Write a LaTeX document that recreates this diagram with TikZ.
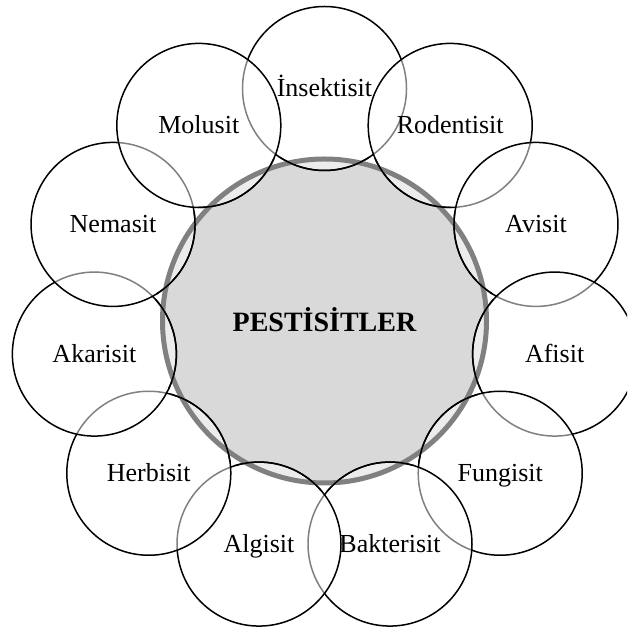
\documentclass[tikz,border=0pt]{standalone}
\usepackage{fontspec}
\setmainfont{Liberation Serif}
\usetikzlibrary{calc}
\definecolor{hubfill}{HTML}{D9D9D9}
\definecolor{hubline}{HTML}{808080}
\begin{document}
\begin{tikzpicture}[x=1pt,y=1pt,
  hub/.style={circle, fill=hubfill, minimum size=324pt, inner sep=0pt, outer sep=0pt},
  petal/.style={circle, draw=black, line width=1.5pt, fill=white, fill opacity=0.5,
    minimum size=164pt, inner sep=0pt, outer sep=0pt},
  petaltext/.style={font=\fontsize{26}{30}\selectfont, text height=17pt, text depth=0pt, inner sep=0pt},
  hubtext/.style={font=\bfseries\fontsize{28}{32}\selectfont, text height=18.5pt, text depth=0pt, inner sep=0pt}]
\useasboundingbox (0,0) rectangle (627,628);
\clip (0,0) rectangle (627,628);
\coordinate (c) at (324.5,307);
% central disc
\node[hub] (hub) at (c) {};
% eleven overlapping outer circles, clockwise from the top
\foreach \name [count=\i from 0] in {ins,rod,avi,afi,fun,bak,alg,her,aka,nem,mol} {
  \node[petal] (\name) at ($(c)+({90-\i*360/11}:232.5)$) {};
}
% rim of the central disc
\draw[line width=5pt, hubline] (c) circle[radius=162];
% outer circle edges stay on top of the rim where they cross it
\begin{scope}[even odd rule]
  \clip (c) circle[radius=170] (c) circle[radius=146];
  \foreach \name in {ins,rod,avi,afi,fun,bak,alg,her,aka,nem,mol}
    \draw[line width=1.5pt] (\name.center) circle[radius=82];
\end{scope}
% labels
\foreach \name/\txt in {ins/İnsektisit,rod/Rodentisit,avi/Avisit,afi/Afisit,fun/Fungisit,
  bak/Bakterisit,alg/Algisit,her/Herbisit,aka/Akarisit,nem/Nemasit,mol/Molusit}
  \node[petaltext] (\name-t) at (\name.center) {\txt};
\node[hubtext] (title) at ([yshift=-1pt]c) {PESTİSİTLER};
\end{tikzpicture}
\end{document}
